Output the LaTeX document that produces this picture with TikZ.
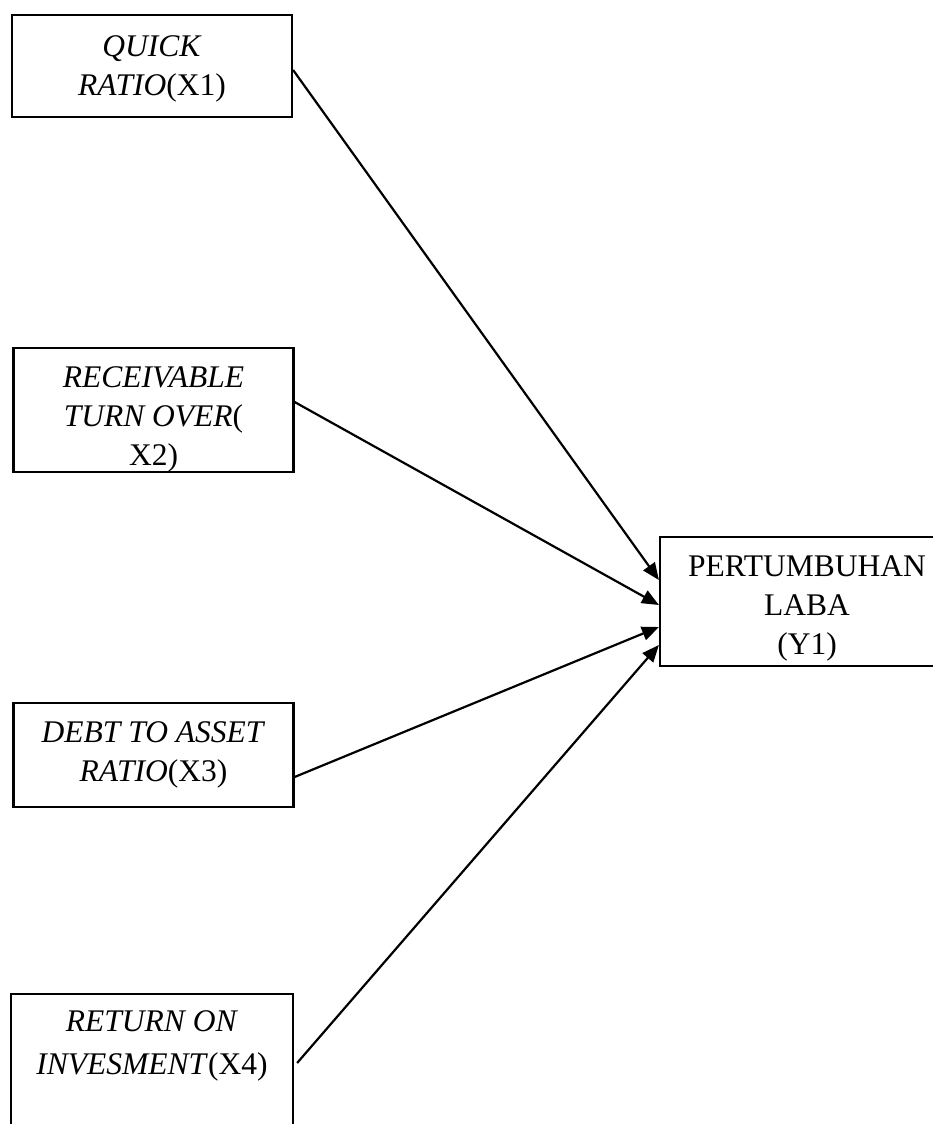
\documentclass[tikz,border=0pt]{standalone}
\usepackage{fontspec}
\setmainfont{Liberation Serif}
\usetikzlibrary{arrows.meta,positioning}
\newcommand{\lift}[1]{\rule{0pt}{#1}}

\begin{document}
\begin{tikzpicture}[x=1pt,y=-1pt,
  box/.style={draw,line width=2.2pt,minimum width=280pt,align=center,
    inner sep=0pt,font=\fontsize{31.5}{39}\selectfont},
  a/.style={-{Triangle[length=17pt,width=14pt]},line width=2.2pt}
]
  \useasboundingbox (0,0) rectangle (933,1124);
  \clip (0,0) rectangle (933,1124);
  \node[box,minimum height=102pt] (qr) at (152,66)
    {\lift{27pt}\textit{QUICK}\\\textit{RATIO}(X1)};
  \node[box,minimum height=124pt] (rto) at (153.5,410)
    {\lift{40pt}\textit{RECEIVABLE}\\\textit{TURN OVER}(\\X2)};
  \node[box,minimum height=104pt] (dar) at (153.5,755)
    {\textit{DEBT TO ASSET}\\\textit{RATIO}(X3)};
  \node[box,minimum width=282pt,anchor=north,inner ysep=17pt,text depth=160pt] (roi) at (152,993)
    {\textit{RETURN ON}\\[4pt]\textit{INVESMENT}(X4)};
  \node[box,minimum width=294pt,minimum height=129pt] (pl) at (807,601.5)
    {\lift{35pt}PERTUMBUHAN\\LABA\\(Y1)};
  \draw[a] ([yshift=-4pt]qr.east) -- ([yshift=21.5pt]pl.west);
  \draw[a] ([yshift=8pt]rto.east) -- ([yshift=-3.5pt]pl.west);
  \draw[a] ([yshift=-22pt]dar.east) -- ([yshift=-25.5pt]pl.west);
  \draw[a] ([xshift=3pt,yshift=-70pt]roi.north east) -- ([yshift=-43.5pt]pl.west);
\end{tikzpicture}
\end{document}
